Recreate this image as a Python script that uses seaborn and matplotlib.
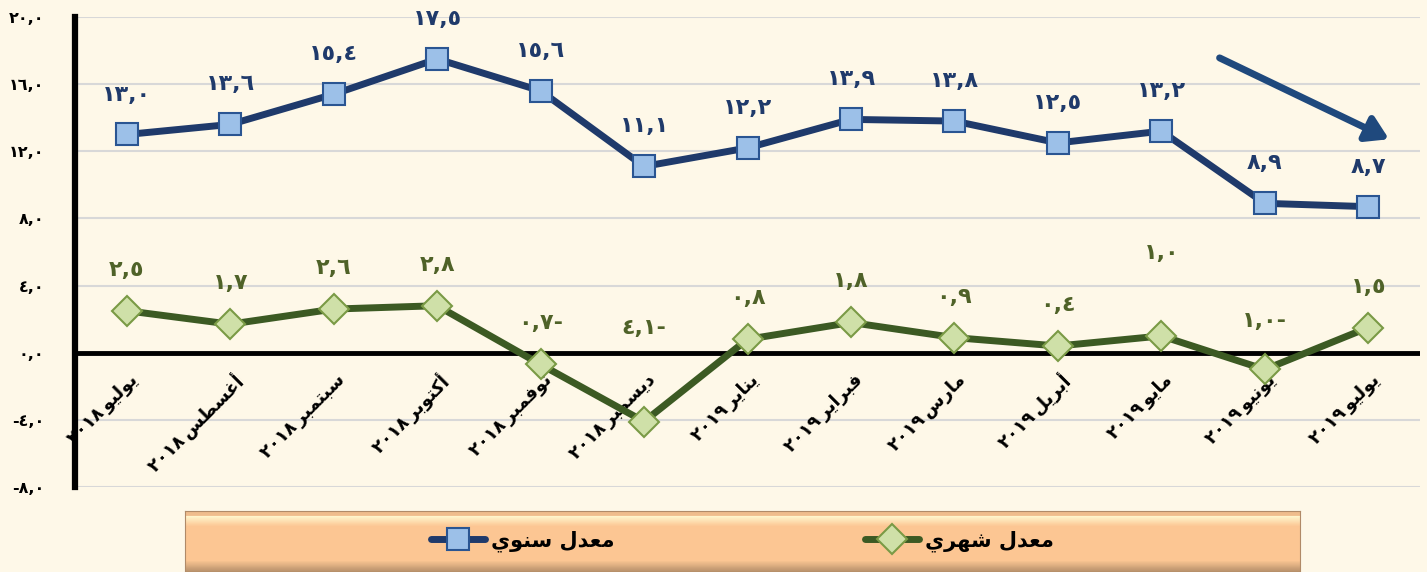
import numpy as np
import pandas as pd
import seaborn as sns
import matplotlib.pyplot as plt
from matplotlib import transforms

# ---- data -------------------------------------------------------------
months = ['يوليو', 'أغسطس', 'سبتمبر', 'أكتوبر', 'نوفمبر', 'ديسمبر', 'يناير',
          'فبراير', 'مارس', 'أبريل', 'مايو', 'يونيو', 'يوليو']
years = [2018, 2018, 2018, 2018, 2018, 2018, 2019,
         2019, 2019, 2019, 2019, 2019, 2019]
annual = [13.0, 13.6, 15.4, 17.5, 15.6, 11.1, 12.2, 13.9, 13.8, 12.5, 13.2, 8.9, 8.7]
monthly = [2.5, 1.7, 2.6, 2.8, -0.7, -4.1, 0.8, 1.8, 0.9, 0.4, 1.0, -1.0, 1.5]
series_names = ['معدل سنوي', 'معدل شهري']
y_ticks = [-8, -4, 0, 4, 8, 12, 16, 20]

# ---- minimal arabic shaping (matplotlib has no complex text layout) ----
FORMS = {
    'ا': ('\uFE8D', '\uFE8E', None, None),
    'أ': ('\uFE83', '\uFE84', None, None),
    'ب': ('\uFE8F', '\uFE90', '\uFE91', '\uFE92'),
    'ت': ('\uFE95', '\uFE96', '\uFE97', '\uFE98'),
    'د': ('\uFEA9', '\uFEAA', None, None),
    'ر': ('\uFEAD', '\uFEAE', None, None),
    'س': ('\uFEB1', '\uFEB2', '\uFEB3', '\uFEB4'),
    'ش': ('\uFEB5', '\uFEB6', '\uFEB7', '\uFEB8'),
    'ط': ('\uFEC1', '\uFEC2', '\uFEC3', '\uFEC4'),
    'ع': ('\uFEC9', '\uFECA', '\uFECB', '\uFECC'),
    'غ': ('\uFECD', '\uFECE', '\uFECF', '\uFED0'),
    'ف': ('\uFED1', '\uFED2', '\uFED3', '\uFED4'),
    'ك': ('\uFED9', '\uFEDA', '\uFEDB', '\uFEDC'),
    'ل': ('\uFEDD', '\uFEDE', '\uFEDF', '\uFEE0'),
    'م': ('\uFEE1', '\uFEE2', '\uFEE3', '\uFEE4'),
    'ن': ('\uFEE5', '\uFEE6', '\uFEE7', '\uFEE8'),
    'ه': ('\uFEE9', '\uFEEA', '\uFEEB', '\uFEEC'),
    'و': ('\uFEED', '\uFEEE', None, None),
    'ي': ('\uFEF1', '\uFEF2', '\uFEF3', '\uFEF4'),
}


def shape(text):
    out = []
    for i, c in enumerate(text):
        f = FORMS.get(c)
        if f is None:
            out.append(c)
            continue
        prev = text[i - 1] if i > 0 else None
        nxt = text[i + 1] if i + 1 < len(text) else None
        jp = prev in FORMS and FORMS[prev][2] is not None
        jn = nxt in FORMS and f[2] is not None
        if jp and jn:
            out.append(f[3])
        elif jp:
            out.append(f[1])
        elif jn:
            out.append(f[2])
        else:
            out.append(f[0])
    return ''.join(out[::-1])


AR_DIGITS = str.maketrans('0123456789', '٠١٢٣٤٥٦٧٨٩')


def ar_num(v, minus_right=True):
    s = f"{abs(v):.1f}".replace('.', ',').translate(AR_DIGITS)
    if v < 0:
        return s + '-' if minus_right else '-' + s
    return s


# ---- style --------------------------------------------------------------
bg = '#FEF8E8'
sns.set_style('white', {'axes.facecolor': bg, 'figure.facecolor': bg,
                        'text.color': 'black', 'ytick.color': 'black'})
plt.rcParams['font.family'] = ['DejaVu Sans']

navy = '#1F3A6B'
green = '#3C5A23'
green_txt = '#4F6228'

df = pd.DataFrame({'pos': np.arange(len(months)), 'annual': annual, 'monthly': monthly})

fig = plt.figure(figsize=(14.27, 5.72), dpi=100)
ax = fig.add_axes([75 / 1427, 1 - 487 / 572, 1345 / 1427, 470 / 572])

sns.lineplot(data=df, x='pos', y='annual', ax=ax, color=navy, lw=5,
             marker='s', markersize=16, markerfacecolor='#9CC0E8',
             markeredgecolor='#2A5592', markeredgewidth=1.5,
             label=shape(series_names[0]), zorder=4)
sns.lineplot(data=df, x='pos', y='monthly', ax=ax, color=green, lw=5,
             marker='D', markersize=15, markerfacecolor='#CFE0A8',
             markeredgecolor='#7A9A45', markeredgewidth=1.5,
             label=shape(series_names[1]), zorder=4)

ax.set_xlim(-0.5, len(months) - 0.5)
ax.set_ylim(-8, 20)
ax.set_yticks(y_ticks)
ax.set_yticklabels([ar_num(v, minus_right=False) for v in y_ticks],
                   fontsize=11.5, fontweight='bold', color='black')
ax.tick_params(axis='y', length=0, pad=22)
ax.set_xticks([])
ax.set_xlabel('')
ax.set_ylabel('')
ax.grid(axis='y', color='#D8D8D8', lw=1.5)
ax.set_axisbelow(True)
for s in ['top', 'right', 'bottom']:
    ax.spines[s].set_visible(False)
ax.spines['left'].set_color('black')
ax.spines['left'].set_linewidth(4.5)
ax.axhline(0, color='black', lw=3.5, zorder=3)
ax.get_legend().remove()

# data labels
pt = 72 / fig.dpi
for i, v in enumerate(annual):
    ax.annotate(ar_num(v), (i, v), xytext=(0, 40 * pt), textcoords='offset points',
                ha='center', va='center', fontsize=16, fontweight='bold',
                color=navy, annotation_clip=False, zorder=6)
mon_offset = {5: 94, 10: 83, 11: 48}
for i, v in enumerate(monthly):
    ax.annotate(ar_num(v), (i, v), xytext=(0, mon_offset.get(i, 41) * pt),
                textcoords='offset points', ha='center', va='center',
                fontsize=16, fontweight='bold', color=green_txt,
                annotation_clip=False, zorder=6)

# category labels next to the zero line
tr = transforms.offset_copy(ax.transData, fig=fig, x=2, y=-18, units='dots')
for i, (m, yr) in enumerate(zip(months, years)):
    ax.text(i, 0, str(yr).translate(AR_DIGITS) + '\u2009' + shape(m), transform=tr,
            rotation=45, rotation_mode='anchor', ha='right', va='top',
            fontsize=13, fontweight='bold', color='black')

# trend arrow
ax.annotate('', xy=(0.977, 0.740), xytext=(0.851, 0.913), xycoords='axes fraction',
            arrowprops=dict(arrowstyle='-|>,head_length=1.3,head_width=0.8',
                            color='#1F497D', lw=5, shrinkA=0, shrinkB=0))

# legend box
lax = fig.add_axes([185 / 1427, 0, 1115 / 1427, 61 / 572])
n_rows = 50
peach = np.array([0.99, 0.78, 0.58])
light = np.array([1.0, 0.96, 0.80])
img = np.zeros((n_rows, 1, 3))
for k in range(n_rows):
    if k < 4:
        img[k, 0] = peach * 0.95
    elif k < 12:
        img[k, 0] = light * (12 - k) / 8 + peach * (k - 4) / 8
    elif k < 40:
        img[k, 0] = peach
    else:
        img[k, 0] = peach * (1 - 0.3 * (k - 40) / 10)
lax.imshow(img, aspect='auto', extent=(0, 1, 0, 1))
lax.set_xlim(0, 1)
lax.set_ylim(0, 1)
lax.set_xticks([])
lax.set_yticks([])
for s in lax.spines.values():
    s.set_color('#B08A68')
handles, labels = ax.get_legend_handles_labels()
lax.legend(handles, labels, loc='center', ncol=2, frameon=False,
           prop={'size': 15, 'weight': 'bold'}, handlelength=2.6,
           columnspacing=12, handletextpad=0.3, bbox_to_anchor=(0.5, 0.5),
           labelcolor='black')

fig.savefig('out.png', dpi=100, facecolor=bg)
